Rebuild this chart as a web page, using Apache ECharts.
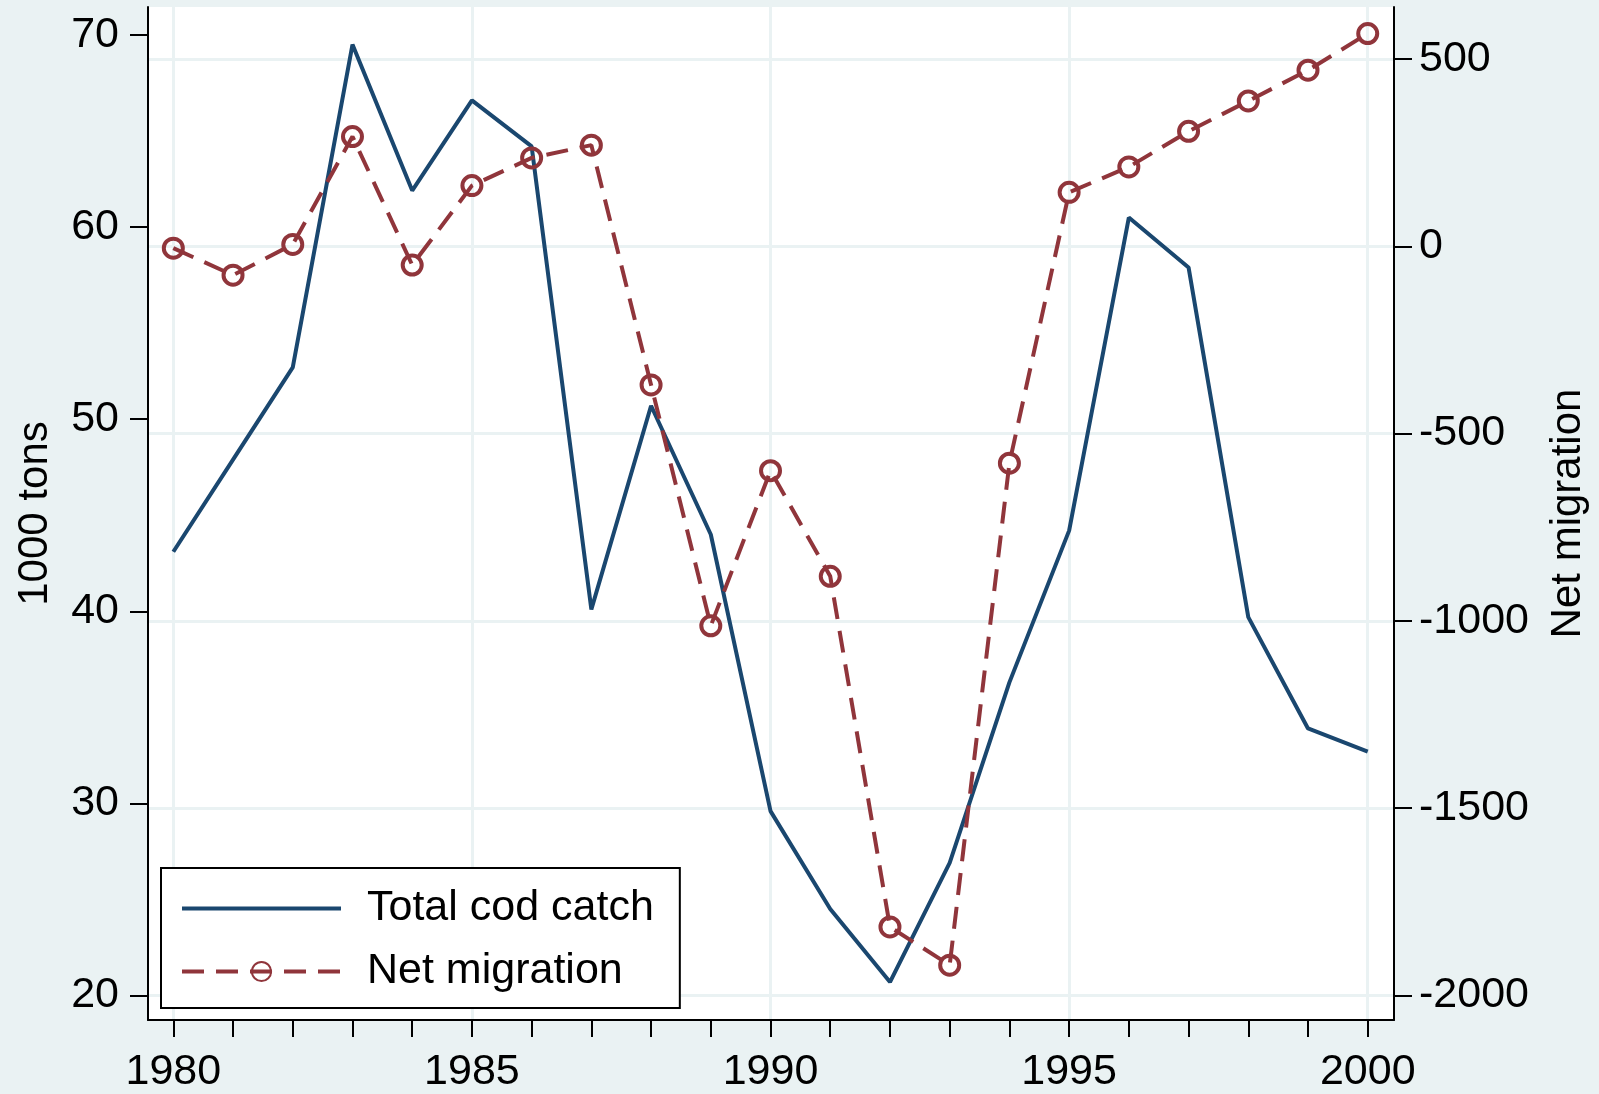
<!DOCTYPE html>
<html>
<head>
<meta charset="UTF-8">
<title>Cod catch and net migration</title>
<script src="https://cdn.jsdelivr.net/npm/echarts@6/dist/echarts.min.js"></script>
<style>
html, body { margin: 0; padding: 0; background: #EAF2F3; }
#main { width: 1599px; height: 1094px; }
</style>
</head>
<body>
<div id="main"></div>
<script type="text/javascript">
// data
var years = [1980, 1981, 1982, 1983, 1984, 1985, 1986, 1987, 1988, 1989, 1990,
             1991, 1992, 1993, 1994, 1995, 1996, 1997, 1998, 1999, 2000];
var codCatch = [43.1, 47.9, 52.7, 69.5, 61.9, 66.6, 64.2, 40.1, 50.7, 44.0, 29.6,
                24.5, 20.7, 26.9, 36.3, 44.2, 60.5, 57.9, 39.7, 33.9, 32.7];
var netMigration = [-5, -77, 5, 293, -50, 162, 236, 270, -370, -1013, -599,
                    -881, -1817, -1919, -579, 144, 212, 307, 388, 470, 568];
var leftTicks = [20, 30, 40, 50, 60, 70];
var rightTicks = [-2000, -1500, -1000, -500, 0, 500];
var yearLabels = [1980, 1985, 1990, 1995, 2000];

var navy = '#1A476F';
var maroon = '#90353B';
var font = '"Liberation Sans", Arial, sans-serif';
var dash = [22, 12];

function pairs(xs, ys) {
    return xs.map(function (x, i) { return [x, ys[i]]; });
}
function plain(v) { return String(v); }

var chart = echarts.init(document.getElementById('main'));
chart.setOption({
    backgroundColor: '#EAF2F3',
    animation: false,
    textStyle: { fontFamily: font, color: '#000' },
    grid: {
        left: 148, right: 205, top: 7, bottom: 74,
        show: true, backgroundColor: '#fff', borderWidth: 0
    },
    legend: {
        orient: 'vertical',
        left: 161, top: 868,
        backgroundColor: '#fff',
        borderColor: '#000', borderWidth: 2, borderRadius: 0,
        padding: [19, 26, 15, 19],
        itemWidth: 159, itemHeight: 24, itemGap: 20,
        textStyle: { fontSize: 43, fontFamily: font, color: '#000', lineHeight: 41, padding: [0, 0, 0, 21] },
        data: [{
            name: 'Total cod catch',
            itemStyle: { color: 'rgba(0,0,0,0)', borderColor: 'rgba(0,0,0,0)', borderWidth: 0 },
            lineStyle: { color: navy, width: 4 }
        }, {
            name: 'Net migration',
            lineStyle: { color: maroon, width: 4, type: dash }
        }]
    },
    xAxis: [{
        type: 'value',
        min: 1979.576, max: 2000.44,
        position: 'bottom',
        axisLine: { show: true, onZero: false, lineStyle: { color: '#000', width: 2 } },
        axisTick: { show: true, length: 17, lineStyle: { color: '#000', width: 2 }, customValues: years },
        axisLabel: { customValues: yearLabels, formatter: plain, fontSize: 43, color: '#000', margin: 31 },
        splitLine: { show: false }
    }, {
        type: 'value',
        min: 1979.576, max: 2000.44,
        position: 'top',
        axisLine: { show: false },
        axisTick: { show: false, customValues: yearLabels },
        axisLabel: { show: false },
        splitLine: { show: true, lineStyle: { color: '#EAF2F3', width: 3 } }
    }],
    yAxis: [{
        type: 'value',
        position: 'left',
        min: 18.725, max: 71.458,
        name: '1000 tons',
        nameLocation: 'middle',
        nameRotate: 90,
        nameGap: 92,
        nameTextStyle: { fontSize: 42, color: '#000' },
        axisLine: { show: true, onZero: false, lineStyle: { color: '#000', width: 2 } },
        axisTick: { show: true, length: 18, lineStyle: { color: '#000', width: 2 }, customValues: leftTicks },
        axisLabel: { customValues: leftTicks, formatter: plain, fontSize: 43, color: '#000', margin: 29 },
        splitLine: { show: false }
    }, {
        type: 'value',
        position: 'right',
        min: -2065.4, max: 638.8,
        name: 'Net migration',
        nameLocation: 'middle',
        nameRotate: 90,
        nameGap: 153,
        nameTextStyle: { fontSize: 42, color: '#000' },
        axisLine: { show: true, onZero: false, lineStyle: { color: '#000', width: 2 } },
        axisTick: { show: true, length: 18, lineStyle: { color: '#000', width: 2 }, customValues: rightTicks },
        axisLabel: { customValues: rightTicks, formatter: plain, fontSize: 43, color: '#000', margin: 25 },
        splitLine: { show: true, lineStyle: { color: '#EAF2F3', width: 3 } }
    }],
    series: [{
        name: 'Total cod catch',
        type: 'line',
        xAxisIndex: 0,
        yAxisIndex: 0,
        data: pairs(years, codCatch),
        symbol: 'none',
        itemStyle: { color: navy },
        lineStyle: { color: navy, width: 4 }
    }, {
        name: 'Net migration',
        type: 'line',
        xAxisIndex: 0,
        yAxisIndex: 1,
        data: pairs(years, netMigration),
        symbol: 'circle',
        symbolSize: 19,
        itemStyle: { color: 'rgba(255,255,255,0)', borderColor: maroon, borderWidth: 4 },
        lineStyle: { color: maroon, width: 4, type: dash }
    }]
});
</script>
</body>
</html>
